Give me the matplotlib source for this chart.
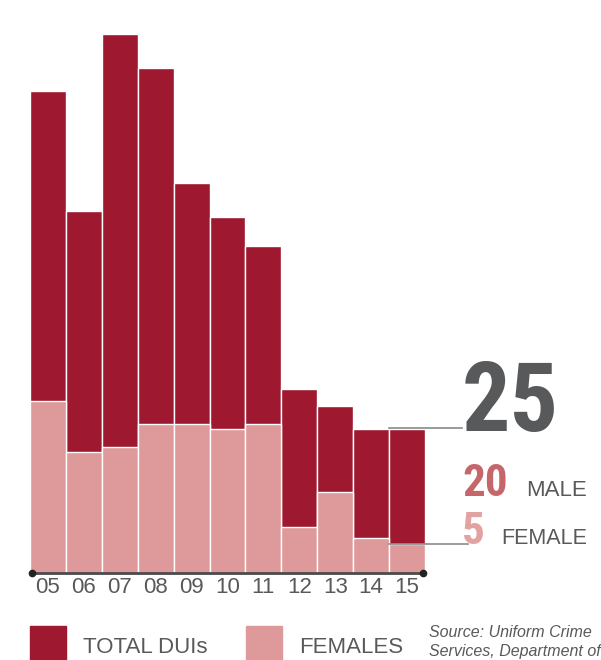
import numpy as np
import matplotlib
matplotlib.use("Agg")
import matplotlib.pyplot as plt
from matplotlib.patches import Rectangle

years = ["05", "06", "07", "08", "09", "10", "11", "12", "13", "14", "15"]
total_duis = [84, 63, 94, 88, 68, 62, 57, 32, 29, 25, 25]
female_duis = [30, 21, 22, 26, 26, 25, 26, 8, 14, 6, 5]
legend_labels = ["TOTAL DUIs", "FEMALES"]
source_lines = ["Source: Uniform Crime", "Services, Department of"]

DARK = "#9e1830"
PINK = "#de9a9a"
GRAY = "#58595b"
MALE_C = "#c5676a"
FEM_C = "#e3a2a2"

W, H = 601, 660
fig = plt.figure(figsize=(W / 100, H / 100), dpi=100)

def fx(px):
    return px / W

def fy(py):
    return 1 - py / H

base_px = 572.7
top_px = 20
unit_px = 5.736
ax = fig.add_axes([fx(30), fy(base_px), fx(425) - fx(30), (base_px - top_px) / H])
x = np.arange(len(years))
ax.bar(x, total_duis, width=1.0, color=DARK, edgecolor="white", linewidth=1.0)
ax.bar(x, female_duis, width=1.0, color=PINK, edgecolor="white", linewidth=1.0)
ax.set_xlim(-0.5, len(years) - 0.5)
ax.set_ylim(0, (base_px - top_px) / unit_px)
for s in ax.spines.values():
    s.set_visible(False)
ax.set_yticks([])
ax.set_xticks(x)
ax.set_xticklabels(years, fontsize=16, color=GRAY, family="Liberation Sans")
ax.tick_params(axis="x", length=0, pad=3)
ax.plot([-0.45, len(years) - 0.55], [0, 0], color="#4a4a4a", lw=2, clip_on=False, zorder=5)
ax.plot([-0.45, len(years) - 0.55], [0, 0], "o", color="#222222", ms=4.5, clip_on=False, zorder=6)

# callout lines to the last bar
slot = (425 - 30) / len(years)
def dx(px):
    return (px - 30) / slot - 0.5
last = len(years) - 1
ax.plot([last - 0.5, dx(462)], [total_duis[-1] + 0.15, total_duis[-1] + 0.15],
        color="#8a8a8a", lw=1.2, clip_on=False, zorder=4)
ax.plot([last - 0.5, dx(468)], [female_duis[-1], female_duis[-1]],
        color="#8a8a8a", lw=1.2, clip_on=False, zorder=4)

total_last = total_duis[-1]
female_last = female_duis[-1]
male_last = total_last - female_last
narrow = ["Roboto Condensed", "Liberation Sans", "DejaVu Sans"]
fig.text(fx(462), fy(430.7), f"{total_last}", fontsize=69, fontweight="bold",
         family=narrow, color=GRAY, ha="left", va="baseline")
fig.text(fx(462), fy(496), f"{male_last}", fontsize=32.5, fontweight="bold",
         family=narrow, color=MALE_C, ha="left", va="baseline")
fig.text(fx(526), fy(496), "MALE", fontsize=16, family="Liberation Sans",
         color=GRAY, ha="left", va="baseline")
fig.text(fx(462), fy(544), f"{female_last}", fontsize=32.5, fontweight="bold",
         family=narrow, color=FEM_C, ha="left", va="baseline")
fig.text(fx(501), fy(544), "FEMALE", fontsize=15.5, family="Liberation Sans",
         color=GRAY, ha="left", va="baseline")

# legend
fig.patches.append(Rectangle((fx(30), 0), fx(66) - fx(30), fy(626), transform=fig.transFigure,
                             color=DARK, figure=fig))
fig.text(fx(83), fy(653), legend_labels[0], fontsize=16, family="Liberation Sans",
         color=GRAY, ha="left", va="baseline")
fig.patches.append(Rectangle((fx(246), 0), fx(282) - fx(246), fy(626), transform=fig.transFigure,
                             color=PINK, figure=fig))
fig.text(fx(299), fy(653), legend_labels[1], fontsize=16, family="Liberation Sans",
         color=GRAY, ha="left", va="baseline")

fig.text(fx(429), fy(637), source_lines[0], fontsize=11.5, style="italic",
         family="Liberation Sans", color=GRAY, ha="left", va="baseline")
fig.text(fx(429), fy(656), source_lines[1], fontsize=11.5, style="italic",
         family="Liberation Sans", color=GRAY, ha="left", va="baseline")

fig.savefig("out.png", dpi=100)
